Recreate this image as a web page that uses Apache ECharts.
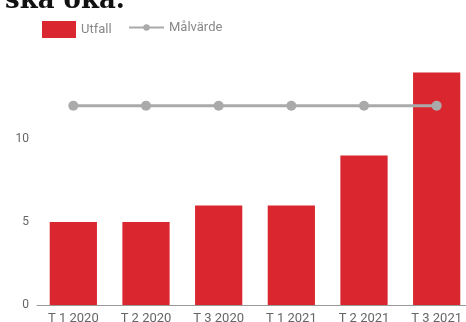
<!DOCTYPE html>
<html>
<head>
<meta charset="utf-8">
<script src="https://cdn.jsdelivr.net/npm/echarts@6/dist/echarts.min.js"></script>
<style>
  html, body { margin: 0; padding: 0; background: #fff; }
  #chart { width: 466px; height: 322px; }
</style>
</head>
<body>
<div id="chart"></div>
<script>
// data
var categories = ['T 1 2020', 'T 2 2020', 'T 3 2020', 'T 1 2021', 'T 2 2021', 'T 3 2021']
var utfall = [5, 5, 6, 6, 9, 14]
var malvarde = [12, 12, 12, 12, 12, 12]

var myChart = echarts.init(document.getElementById('chart'))
var legendText = { color: '#888', fontSize: 13, fontFamily: 'Roboto' }
var option = {
  animation: false,
  title: {
    text: 'ska öka.',
    left: 0,
    top: -17,
    textStyle: { fontFamily: 'DejaVu Serif', fontWeight: 'bold', fontSize: 26, color: '#111' }
  },
  legend: [
    {
      left: 37,
      top: 16,
      itemWidth: 34,
      itemHeight: 17,
      icon: 'rect',
      textStyle: legendText,
      data: ['Utfall']
    },
    {
      left: 123,
      top: 16,
      itemWidth: 35,
      itemHeight: 8,
      textStyle: legendText,
      lineStyle: { width: 2 },
      data: ['Målvärde']
    }
  ],
  // v6 would otherwise squeeze the grid to keep labels inside the box
  grid: { left: 37, top: 56, width: 436, height: 249, outerBoundsMode: 'none' },
  xAxis: {
    type: 'category',
    data: categories,
    axisTick: { show: false },
    axisLine: { lineStyle: { color: '#999' } },
    axisLabel: { color: '#666', fontSize: 13, margin: 7, fontFamily: 'Roboto' }
  },
  yAxis: {
    type: 'value',
    min: 0,
    max: 15,
    interval: 5,
    splitLine: { show: false },
    axisLabel: { color: '#666', fontSize: 12, showMaxLabel: false, margin: 8, fontFamily: 'Roboto' }
  },
  series: [
    {
      name: 'Utfall',
      type: 'bar',
      data: utfall,
      barWidth: '65%',
      itemStyle: { color: '#da272f' }
    },
    {
      name: 'Målvärde',
      type: 'line',
      data: malvarde,
      symbol: 'circle',
      symbolSize: 10,
      lineStyle: { color: '#aaa', width: 3 },
      itemStyle: { color: '#aaa' }
    }
  ]
}
myChart.setOption(option)
</script>
</body>
</html>
